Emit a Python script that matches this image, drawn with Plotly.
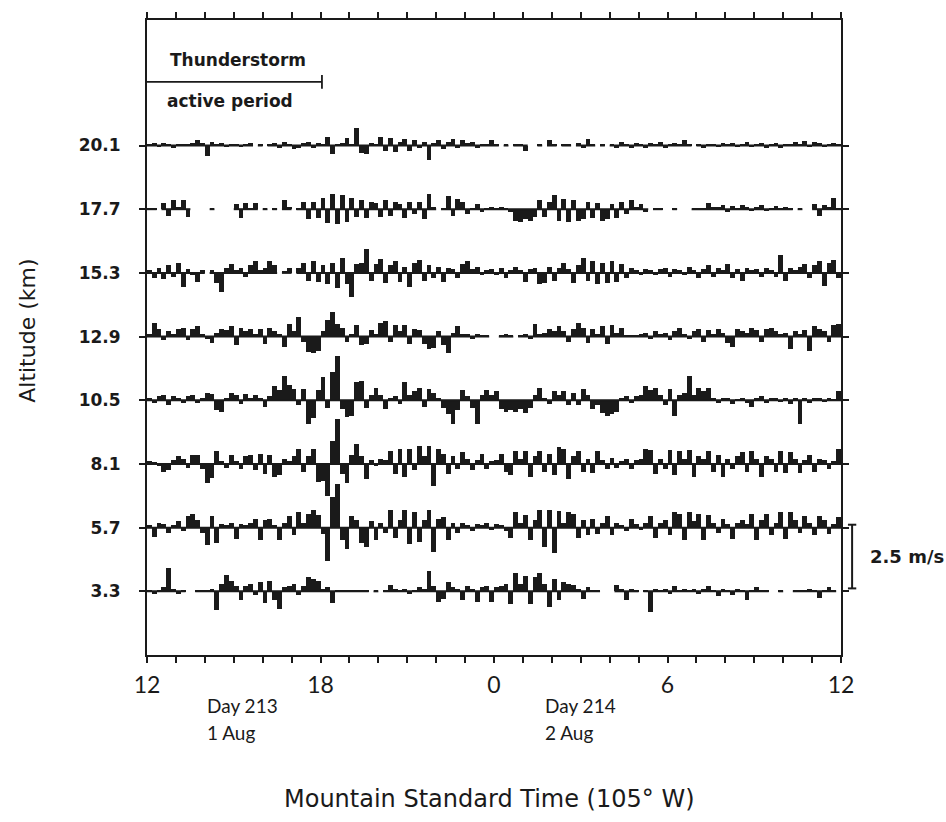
import plotly.graph_objects as go

# ---------------- data ----------------
altitudes_km = [20.1, 17.7, 15.3, 12.9, 10.5, 8.1, 5.7, 3.3]
altitude_labels = ["20.1", "17.7", "15.3", "12.9", "10.5", "8.1", "5.7", "3.3"]
hour_tickvals = [0, 6, 12, 18, 24]          # hours after 12 MST, day 213
hour_ticktext = ["12", "18", "0", "6", "12"]
sample_minutes = 10                          # 10-min samples, 144 per series
storm_end_hour = 6.05

# vertical velocity (m/s), 10-minute samples, None = missing
w_201 = [0.05,0.08,-0.06,0.1,0.06,-0.08,0.05,0.06,0.04,0.08,0.2,0.1,
         -0.4,0.15,0.05,0.08,-0.05,0.06,0.05,-0.06,0.05,0.08,None,0.03,
         None,0.04,0.08,-0.1,0.12,0.05,-0.15,-0.1,0.1,0.15,-0.1,0.1,
         0.05,0.35,-0.35,0.05,0.1,0.3,0.05,0.7,-0.3,-0.35,0.1,0.05,
         0.35,-0.2,0.3,-0.25,0.15,0.25,-0.2,0.2,-0.1,0.15,-0.55,0.1,
         0.2,-0.15,0.15,0.25,-0.1,0.2,0.1,0.15,-0.1,0.05,0.05,0.2,
         0.05,None,0.03,None,0.04,0.05,-0.2,None,None,0.03,None,0.2,
         0.03,None,0.03,0.03,None,0.1,-0.1,0.25,0.05,None,0.03,None,
         0.06,-0.1,0.12,0.05,-0.08,0.1,0.06,-0.1,0.08,0.05,0.15,-0.08,
         0.06,0.1,0.05,0.2,0.05,None,0.05,-0.08,0.06,0.05,-0.06,0.1,
         0.05,0.08,-0.06,0.05,0.12,-0.05,0.06,0.1,-0.08,0.05,0.08,-0.1,
         0.05,0.06,0.15,0.05,0.18,-0.06,0.15,0.08,-0.05,0.06,0.1,0.05]

w_177 = [0.05,0.03,None,0.25,-0.25,0.35,0.1,0.35,-0.3,None,None,None,
         None,0.03,None,None,None,None,0.2,-0.35,0.25,0.05,0.25,None,
         0.03,None,0.03,None,0.35,0.1,None,0.03,0.3,-0.4,0.3,-0.35,
         0.45,-0.55,0.6,-0.6,0.55,-0.5,0.45,-0.3,0.35,-0.35,0.3,0.25,
         -0.3,0.35,-0.25,0.3,0.2,-0.35,0.3,-0.2,0.3,-0.4,0.6,0.1,
         None,0.03,0.5,-0.25,0.4,0.3,-0.2,0.05,0.2,-0.1,0.05,0.08,
         0.06,0.08,0.05,-0.1,-0.45,-0.5,-0.4,-0.45,-0.3,0.35,-0.3,0.3,
         0.55,-0.45,0.4,-0.5,0.35,-0.45,-0.4,0.3,-0.35,0.25,-0.45,-0.4,
         0.2,-0.35,0.3,-0.2,0.35,0.1,0.2,-0.1,None,0.03,0.03,None,
         None,0.03,None,None,None,0.03,0.03,0.05,0.25,0.1,0.08,0.15,
         -0.1,0.12,0.05,0.18,0.08,-0.06,0.1,0.15,-0.08,0.06,0.12,0.05,
         0.08,0.03,None,0.03,None,None,0.2,-0.25,0.15,0.1,0.45,0.05]

w_153 = [0.1,-0.2,0.2,-0.25,0.3,-0.15,0.4,-0.55,0.15,-0.1,-0.35,0.1,
         None,0.1,-0.4,-0.75,0.2,0.35,0.1,0.2,-0.15,0.3,0.45,0.1,
         0.2,0.45,0.3,None,0.05,0.2,None,0.2,0.4,-0.3,0.45,-0.35,
         0.3,-0.45,0.4,-0.6,0.6,-0.45,-0.95,0.35,0.4,0.95,-0.3,0.35,
         0.55,-0.4,0.3,0.45,-0.35,0.25,-0.55,0.4,0.5,-0.3,0.3,-0.2,
         0.25,-0.35,0.2,0.15,-0.2,0.35,0.45,0.15,0.25,-0.1,0.1,0.15,
         -0.1,0.2,-0.2,0.1,0.25,0.1,-0.35,0.15,0.2,-0.45,-0.4,0.25,
         -0.3,0.2,0.4,0.15,-0.4,0.3,0.6,-0.3,0.45,-0.45,0.4,-0.4,
         0.45,-0.35,0.35,-0.2,0.2,0.1,-0.1,0.15,0.1,-0.1,0.15,0.2,
         -0.15,0.15,0.1,-0.1,0.25,0.1,-0.2,0.15,0.3,-0.15,0.2,0.1,
         0.35,-0.2,0.15,-0.3,0.2,0.1,0.15,-0.15,0.2,0.1,-0.15,0.7,
         -0.3,0.2,0.1,0.25,0.35,-0.2,0.3,0.45,-0.5,0.4,0.5,-0.2]

w_129 = [0.1,0.55,0.3,-0.15,0.2,0.1,0.3,0.35,-0.15,0.3,0.4,0.1,
         -0.1,-0.25,0.15,0.3,0.25,0.4,-0.35,0.35,0.2,0.3,0.1,0.3,
         -0.3,0.35,0.2,0.1,-0.4,0.5,0.2,0.75,-0.2,-0.6,-0.65,-0.55,
         0.2,0.65,0.95,0.5,0.35,-0.2,0.1,0.45,-0.35,-0.3,0.25,0.1,
         0.55,0.6,-0.2,0.45,0.2,0.45,-0.3,0.3,0.25,-0.3,-0.5,-0.45,
         0.2,-0.35,-0.65,0.15,0.4,0.1,0.12,-0.1,0.1,0.05,0.08,None,
         None,0.03,0.1,0.03,None,0.05,0.1,-0.1,0.5,0.1,0.15,0.3,
         0.2,0.4,0.2,-0.2,0.3,0.55,0.35,-0.25,0.3,0.1,0.4,-0.3,
         0.45,0.15,0.35,0.05,0.05,0.06,0.1,0.15,-0.1,0.2,0.1,0.15,
         -0.15,0.2,0.35,0.1,-0.1,0.2,0.3,-0.2,0.25,0.1,0.3,0.15,
         -0.25,-0.4,0.3,0.2,0.15,0.35,0.25,-0.2,0.3,0.35,0.2,0.1,
         0.15,-0.5,0.2,0.1,0.25,-0.55,0.4,0.3,0.2,-0.2,0.45,0.5]

w_105 = [0.1,-0.1,0.15,0.2,-0.2,0.15,0.1,-0.1,0.15,0.2,-0.1,0.1,
         0.3,0.25,-0.4,-0.45,0.1,0.3,0.2,-0.15,0.25,0.1,0.2,0.1,
         -0.25,0.15,0.55,0.4,0.95,0.6,0.45,-0.2,0.45,-0.95,-0.7,0.4,
         0.9,-0.3,1.1,1.75,-0.35,-0.65,-0.6,0.7,0.75,-0.3,0.2,0.5,
         0.2,-0.35,0.1,0.15,-0.15,0.7,0.2,0.35,0.5,-0.25,0.45,0.3,
         0.1,-0.3,-0.55,-0.95,-0.4,0.4,0.15,-0.3,-0.95,0.2,0.4,0.2,
         0.35,-0.35,-0.45,-0.4,-0.45,-0.35,-0.5,-0.3,0.2,0.5,0.1,-0.15,
         0.35,0.2,0.35,-0.2,0.3,-0.2,0.45,0.2,-0.35,-0.2,-0.5,-0.6,
         -0.55,-0.45,0.1,0.15,-0.1,0.15,0.2,0.55,0.4,0.5,0.2,-0.2,
         0.45,-0.6,0.2,0.3,0.95,0.2,0.5,0.35,0.5,0.1,-0.1,0.08,
         0.1,-0.15,0.06,0.1,-0.1,-0.25,0.1,0.15,-0.1,0.08,0.1,-0.08,
         0.1,-0.15,0.08,-0.95,0.1,-0.1,0.08,0.1,-0.05,0.08,0.05,0.35]

w_81 = [0.1,0.05,-0.1,-0.3,-0.25,0.15,0.3,0.2,-0.15,0.35,0.35,-0.2,
        -0.75,-0.55,0.5,0.1,-0.15,0.35,0.1,-0.2,0.3,0.35,-0.25,0.4,
        -0.4,0.35,-0.5,-0.45,0.2,0.1,0.3,0.6,-0.3,0.3,0.6,-0.7,
        -0.65,-1.25,0.9,1.75,-0.4,-0.75,0.35,0.8,0.3,-0.6,0.15,-0.1,
        0.2,0.15,0.5,-0.4,0.6,-0.5,0.6,-0.25,0.7,0.3,0.7,-0.85,
        0.6,0.4,-0.4,0.3,-0.2,0.45,0.2,-0.25,0.15,0.4,-0.2,0.1,
        0.15,0.4,-0.3,-0.45,0.5,0.2,0.5,-0.5,0.3,0.5,-0.3,0.4,
        -0.45,0.65,0.6,-0.6,0.3,0.5,-0.3,0.2,-0.35,0.5,0.15,-0.2,
        0.25,-0.15,0.1,0.2,-0.2,0.15,0.2,0.6,0.55,-0.4,0.2,-0.2,
        0.55,-0.45,0.5,0.2,0.55,-0.5,0.3,0.2,0.5,-0.3,0.35,-0.5,
        0.2,-0.2,0.3,0.45,-0.3,0.5,0.2,-0.5,0.3,0.2,-0.3,0.5,
        -0.35,0.45,0.2,-0.35,0.15,0.35,-0.3,0.2,0.15,-0.2,0.1,0.6]

w_57 = [0.1,-0.35,0.2,0.15,-0.2,0.1,0.25,-0.15,0.45,0.55,0.3,-0.2,
        -0.7,0.45,-0.6,0.15,0.1,0.2,-0.45,0.15,0.1,0.2,0.35,-0.5,
        0.3,0.35,0.1,-0.5,0.2,0.45,-0.3,0.6,0.2,0.55,0.7,0.5,
        -0.25,-1.3,1.2,1.7,-0.5,-0.85,0.45,0.3,-0.6,-0.75,0.25,-0.5,
        0.2,-0.2,0.7,-0.4,0.3,0.7,-0.65,0.6,-0.55,0.3,0.7,-0.95,
        0.35,0.4,-0.5,0.2,-0.2,0.2,0.1,-0.15,0.15,0.1,0.2,-0.1,
        0.15,0.1,-0.15,-0.4,0.6,0.2,0.5,-0.5,0.3,0.7,-0.75,0.7,
        -1.0,0.65,0.2,0.6,0.55,-0.4,0.3,-0.3,0.35,-0.25,0.2,0.45,
        -0.3,0.2,0.1,-0.15,0.35,0.15,-0.1,0.2,0.45,-0.4,0.2,0.3,
        -0.3,0.6,0.55,-0.5,0.6,0.25,0.55,-0.5,0.5,0.2,-0.2,0.35,
        0.15,-0.45,0.2,0.3,0.15,0.55,-0.5,0.3,0.55,-0.3,0.2,0.6,
        -0.45,0.6,0.3,-0.2,0.45,0.2,-0.3,0.45,0.3,-0.25,0.15,0.4]

w_33 = [0.05,-0.1,0.03,0.15,0.9,0.1,-0.1,0.03,None,None,0.03,0.03,
        0.05,0.1,-0.75,0.3,0.65,0.4,0.2,-0.35,0.2,0.3,-0.15,0.35,
        -0.45,0.4,-0.35,-0.7,0.15,0.2,0.3,-0.15,0.2,0.55,0.5,0.4,
        0.1,0.15,-0.45,0.05,0.03,0.03,0.03,0.03,0.03,0.03,None,0.03,
        None,0.05,0.25,0.1,0.05,0.1,-0.1,0.05,0.15,0.1,0.8,0.2,
        -0.4,-0.3,0.35,0.15,0.1,-0.35,0.2,0.1,-0.4,0.15,0.2,-0.4,
        0.15,0.2,0.3,-0.5,0.7,0.3,0.6,-0.5,0.55,0.7,0.3,-0.6,
        0.5,-0.35,0.35,0.3,0.25,0.1,-0.3,0.15,0.05,0.03,None,None,
        None,0.25,0.1,-0.35,0.1,0.03,None,0.05,-0.8,0.1,0.05,0.1,
        -0.1,0.2,0.05,0.1,0.05,0.1,-0.1,0.1,0.2,0.05,-0.2,0.1,
        0.05,-0.15,0.1,0.05,-0.35,0.05,0.15,0.03,0.03,None,None,0.03,
        None,None,0.03,0.05,0.05,0.1,0.05,-0.25,0.05,0.15,0.03,None]

series = [w_201, w_177, w_153, w_129, w_105, w_81, w_57, w_33]

# ---------------- styling constants ----------------
KM_PER_MS = 2.4 / 2.5        # 2.5 m/s drawn as one 2.4 km level spacing
DT = sample_minutes / 60.0
INK = "#1a1a1a"
WIDE = "DejaVu Sans"
NARROW = "Lato"

fig = go.Figure()

for alt, w in zip(altitudes_km, series):
    t = [(i + 0.5) * DT for i in range(len(w))]
    xs, hs = [], []
    for ti, v in zip(t, w):
        if v is not None:
            xs.append(ti)
            hs.append(v * KM_PER_MS)
    fig.add_trace(go.Bar(x=xs, y=hs, base=alt, width=DT,
                         marker=dict(color=INK, line=dict(width=0)),
                         hoverinfo="skip", showlegend=False))
    # baseline where data exist
    bx, by = [], []
    prev = False
    for i, v in enumerate(w):
        if v is None:
            if prev:
                bx.append(None); by.append(None)
            prev = False
            continue
        if not prev:
            bx.append(i * DT); by.append(alt)
        bx.append((i + 1) * DT); by.append(alt)
        prev = True
    fig.add_trace(go.Scatter(x=bx, y=by, mode="lines",
                             line=dict(color=INK, width=2),
                             hoverinfo="skip", showlegend=False,
                             connectgaps=False))

Y_TOP, Y_BOT = 24.83, 0.9

fig.update_layout(
    width=946, height=822,
    margin=dict(l=147, r=105, t=17, b=167),
    paper_bgcolor="white", plot_bgcolor="white",
    barmode="overlay", bargap=0,
    showlegend=False,
)
fig.update_xaxes(
    range=[0, 24], tickvals=hour_tickvals, ticktext=hour_ticktext,
    ticks="outside", ticklen=6, tickwidth=1.5, tickcolor=INK,
    minor=dict(dtick=1, tick0=0, ticks="outside", ticklen=6, tickwidth=1.5,
               tickcolor=INK),
    showline=True, linewidth=2, linecolor=INK, mirror="allticks",
    showgrid=False, zeroline=False, ticklabelstandoff=2,
    tickfont=dict(family=NARROW, size=23, color=INK),
)
fig.update_yaxes(
    range=[Y_BOT, Y_TOP], tickvals=altitudes_km, ticktext=altitude_labels,
    ticks="outside", ticklen=6, tickwidth=1.5, tickcolor=INK,
    showline=True, linewidth=2, linecolor=INK, mirror="ticks",
    showgrid=False, zeroline=False, ticklabelstandoff=15,
    tickfont=dict(family=WIDE, size=17, color=INK, weight=700),
)

# thunderstorm active period marker
fig.add_shape(type="line", xref="x", yref="y", x0=0, x1=storm_end_hour,
              y0=22.5, y1=22.5, line=dict(color=INK, width=1.8))
fig.add_shape(type="line", xref="x", yref="y", x0=storm_end_hour,
              x1=storm_end_hour, y0=22.24, y1=22.76,
              line=dict(color=INK, width=1.8))

# 2.5 m/s scale bar
sb_x, sb_y0, sb_y1 = 1.016, 3.41, 3.41 + 2.5 * KM_PER_MS
fig.add_shape(type="line", xref="paper", yref="y", x0=sb_x, x1=sb_x,
              y0=sb_y0, y1=sb_y1, line=dict(color=INK, width=2))
for yy in (sb_y0, sb_y1):
    fig.add_shape(type="line", xref="paper", yref="y", x0=sb_x - 0.006,
                  x1=sb_x + 0.006, y0=yy, y1=yy, line=dict(color=INK, width=2))

ann = [
    dict(text="Thunderstorm", x=0.73, y=23.33, xref="x", yref="y",
         xanchor="left", yanchor="middle",
         font=dict(family=WIDE, size=17, color=INK, weight=700)),
    dict(text="active period", x=0.62, y=21.76, xref="x", yref="y",
         xanchor="left", yanchor="middle",
         font=dict(family=WIDE, size=17, color=INK, weight=700)),
    dict(text="2.5 m/s", x=1.039, y=(sb_y0 + sb_y1) / 2, xref="paper", yref="y",
         xanchor="left", yanchor="middle",
         font=dict(family=WIDE, size=18, color=INK, weight=700)),
    dict(text="Altitude (km)", x=-0.172, y=0.51, xref="paper", yref="paper",
         xanchor="center", yanchor="middle", textangle=-90,
         font=dict(family=WIDE, size=22, color=INK)),
    dict(text="Day 213", x=0.0836, y=-0.080, xref="paper", yref="paper",
         xanchor="left", yanchor="middle",
         font=dict(family=NARROW, size=19, color=INK)),
    dict(text="1 Aug", x=0.0836, y=-0.122, xref="paper", yref="paper",
         xanchor="left", yanchor="middle",
         font=dict(family=NARROW, size=19, color=INK)),
    dict(text="Day 214", x=0.5706, y=-0.080, xref="paper", yref="paper",
         xanchor="left", yanchor="middle",
         font=dict(family=NARROW, size=19, color=INK)),
    dict(text="2 Aug", x=0.5706, y=-0.122, xref="paper", yref="paper",
         xanchor="left", yanchor="middle",
         font=dict(family=NARROW, size=19, color=INK)),
    dict(text="Mountain Standard Time (105° W)", x=0.494, y=-0.227,
         xref="paper", yref="paper", xanchor="center", yanchor="middle",
         font=dict(family=WIDE, size=24, color=INK)),
]
for a in ann:
    a["showarrow"] = False
    fig.add_annotation(**a)

fig.write_html("out.html")
